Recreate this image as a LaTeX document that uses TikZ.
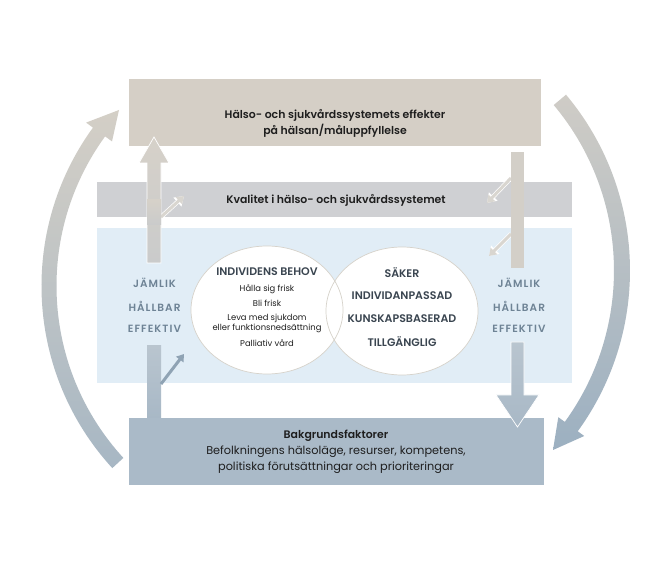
\documentclass[tikz,border=0pt]{standalone}
\usepackage{fontspec}
\setmainfont{Poppins}[BoldFont={Poppins SemiBold}]
\usetikzlibrary{arrows.meta,shadings,shapes.geometric}
\definecolor{cTop}{HTML}{D5CFC6}
\definecolor{cKval}{HTML}{CFD0D3}
\definecolor{cBlue}{HTML}{E1EDF6}
\definecolor{cBot}{HTML}{AABAC8}
\definecolor{cShaftTop}{HTML}{D6D1C9}
\definecolor{cShaftMid}{HTML}{CACBCB}
\definecolor{cShaftR}{HTML}{D3CFC8}
\definecolor{cLowTop}{HTML}{B9C5CF}
\definecolor{cLowBot}{HTML}{A8B8C6}
\definecolor{cArcTop}{HTML}{D4CFC6}
\definecolor{cArcBot}{HTML}{A7B7C4}
\definecolor{cArcRTop}{HTML}{CFCCC6}
\definecolor{cArcRBot}{HTML}{9CB0C1}
\definecolor{cDim}{HTML}{6E8395}
\definecolor{cDark}{HTML}{3A4550}
\definecolor{cTxt}{HTML}{1E1E1E}
\definecolor{cEdge}{HTML}{D6D2CA}
\definecolor{cSmallLight}{HTML}{D9D6D0}
\definecolor{cSmallBlue}{HTML}{8FA3B4}
\tikzset{
  panel/.style={draw=none, inner sep=0pt},
  boxtxt/.style={text=cTxt, inner sep=0pt, font=\fontsize{11.3}{13}\selectfont},
  boxtxtb/.style={boxtxt, font=\fontsize{10.9}{13}\selectfont\bfseries},
  dimtxt/.style={text=cDim, inner sep=0pt, font=\fontsize{10.5}{12}\selectfont\bfseries\addfontfeatures{LetterSpace=10}},
  circtxt/.style={text=cDark, inner sep=0pt, font=\fontsize{11}{13}\selectfont\bfseries},
  smalltxt/.style={text=cTxt, inner sep=0pt, font=\fontsize{8.4}{10}\selectfont},
  bubble/.style={ellipse, minimum width=152pt, minimum height=128pt, inner sep=0pt},
  smallarr/.style={line width=3pt, -{Triangle[width=9pt,length=7pt]}},
  halo/.style={white, line width=4.4pt, -{Triangle[width=11.5pt,length=9pt]}},
}
\begin{document}
\begin{tikzpicture}[x=1pt,y=-1pt]
\useasboundingbox (0,0) rectangle (670,569);
\fill[white] (0,0) rectangle (670,569);

% panels
\node[panel, fill=cTop, minimum width=412pt, minimum height=67pt] (eff) at (335,112.5) {};
\node[panel, fill=cKval, minimum width=475pt, minimum height=35pt] (kval) at (334.5,199.5) {};
\node[panel, fill=cBlue, minimum width=475pt, minimum height=155pt] (blue) at (334.5,305.5) {};
\node[panel, fill=cBot, minimum width=415pt, minimum height=67pt] (bakg) at (336.5,451.5) {};

% big curved arrows
\shade[top color=cArcTop, bottom color=cArcBot]
  (112.3,468.1) arc[start angle=137.5, end angle=216, radius=269.5]
  -- (86.1,122.6) -- (119,110) -- (112.0,141.4) -- (105.1,136.4)
  arc[start angle=216, end angle=137.5, radius=254.5] -- cycle;
\shade[top color=cArcRTop, bottom color=cArcRBot]
  (566.0,94.7) arc[start angle=-40, end angle=36, radius=273.5]
  -- (584.2,436.0) -- (553,450) -- (558.3,417.2) -- (564.8,421.9)
  arc[start angle=36, end angle=-40, radius=257.5] -- cycle;

% vertical shafts
\coordinate (lupTip) at (154,137);
\coordinate (rdnTip) at (517.5,427);
\shade[top color=cShaftTop, bottom color=cShaftMid, draw=white, line width=0.7pt]
  (147,263) -- (147,163) -- (139,163) -- (lupTip) -- (169,163) -- (161,163) -- (161,263) -- cycle;
\fill[cShaftR] (511,152) rectangle (524,268);
\shade[top color=cLowTop, bottom color=cLowBot] (147,346) rectangle (161,418);
\shade[top color=cLowTop, bottom color=cLowBot, draw=white, line width=0.7pt]
  (511,342) -- (511,395) -- (496,395) -- (rdnTip) -- (539,395) -- (524,395) -- (524,342) -- cycle;

% small arrows
\coordinate (sa1s) at (161,217); \coordinate (sa1e) at (184,196);
\coordinate (sa2s) at (511,178); \coordinate (sa2e) at (487,203);
\coordinate (sa3s) at (511,234); \coordinate (sa3e) at (489,256);
\coordinate (sa4s) at (161,384); \coordinate (sa4e) at (184,354);
\draw[halo] (sa1s) -- (sa1e);
\draw[halo] (sa2s) -- (sa2e);
\draw[halo] (sa3s) -- (sa3e);
\draw[smallarr, cSmallLight] (sa1s) -- (sa1e);
\draw[smallarr, cSmallLight] (sa2s) -- (sa2e);
\draw[smallarr, cSmallLight] (sa3s) -- (sa3e);
\draw[smallarr, cSmallBlue] (sa4s) -- (sa4e);
% re-cover shaft roots
\fill[cShaftR] (511,170) rectangle (524,245);
\shade[top color=cShaftTop, bottom color=cShaftMid] (147,200) rectangle (161,225);

% bubbles
\node[bubble, fill=white] (need) at (267,310) {};
\node[bubble, fill=white] (qual) at (402,311) {};
\draw[cEdge, line width=0.7pt] (267,310) ellipse[x radius=76, y radius=64];
\draw[cEdge, line width=0.7pt] (402,311) ellipse[x radius=76, y radius=64];

% texts
\node[boxtxtb] (t1) at (335,115) {Hälso- och sjukvårdssystemets effekter};
\node[boxtxtb] (t2) at (335,131) {på hälsan/måluppfyllelse};
\node[boxtxtb] (t3) at (336,200) {Kvalitet i hälso- och sjukvårdssystemet};
\node[boxtxtb] (t4) at (336,436) {Bakgrundsfaktorer};
\node[boxtxt] (t5) at (336,452) {Befolkningens hälsoläge, resurser, kompetens,};
\node[boxtxt] (t6) at (336,468) {politiska förutsättningar och prioriteringar};

\node[dimtxt] (l1) at (154.5,283) {JÄMLIK};
\node[dimtxt] (l2) at (154.5,306) {HÅLLBAR};
\node[dimtxt] (l3) at (154.5,329) {EFFEKTIV};
\node[dimtxt] (r1) at (519,283) {JÄMLIK};
\node[dimtxt] (r2) at (519,306) {HÅLLBAR};
\node[dimtxt] (r3) at (519,329) {EFFEKTIV};

\node[circtxt] (n0) at (267,272) {INDIVIDENS BEHOV};
\node[smalltxt] (n1) at (267,289) {Hålla sig frisk};
\node[smalltxt] (n2) at (267,303) {Bli frisk};
\node[smalltxt] (n3) at (267,318.5) {Leva med sjukdom};
\node[smalltxt] (n4) at (267,328.5) {eller funktionsnedsättning};
\node[smalltxt] (n5) at (267,343) {Palliativ vård};

\node[circtxt] (q1) at (402,273) {SÄKER};
\node[circtxt] (q2) at (402,296) {INDIVIDANPASSAD};
\node[circtxt] (q3) at (402,319) {KUNSKAPSBASERAD};
\node[circtxt] (q4) at (402,342) {TILLGÄNGLIG};
\end{tikzpicture}
\end{document}
